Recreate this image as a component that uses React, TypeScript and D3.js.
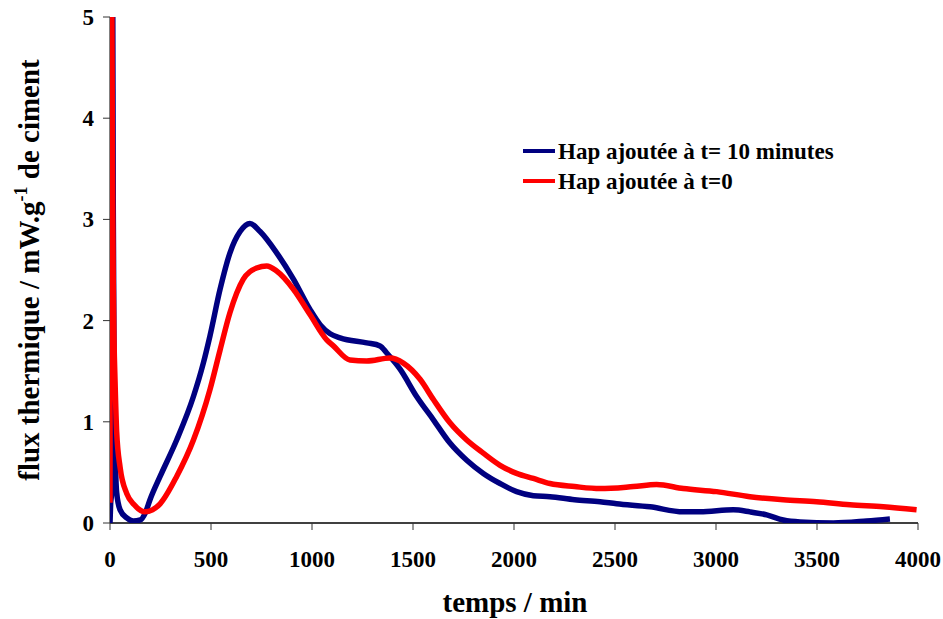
import React from "react";
import * as d3 from "d3";

const xTicks = [0, 500, 1000, 1500, 2000, 2500, 3000, 3500, 4000];
const yTicks = [0, 1, 2, 3, 4, 5];

const seriesNames = ["Hap ajoutée à t= 10 minutes", "Hap ajoutée à t=0"];

// Hap added at t = 10 minutes (blue)
const blueT = [0, 3, 8, 11, 13, 16, 20, 25, 33, 50, 83, 115, 150, 175, 198, 248, 330, 413, 462, 495, 545, 594, 644, 693, 743, 825, 908, 990, 1040, 1090, 1139, 1271, 1337, 1370, 1436, 1518, 1601, 1683, 1766, 1848, 1931, 2013, 2096, 2178, 2300, 2426, 2508, 2673, 2838, 2921, 3086, 3168, 3251, 3333, 3416, 3581, 3746, 3861];
const blueV = [0, 0.18, 0.3, 4.0, 5.6, 3.2, 1.6, 0.8, 0.3, 0.13, 0.05, 0.02, 0.03, 0.1, 0.23, 0.46, 0.82, 1.25, 1.58, 1.85, 2.31, 2.67, 2.88, 2.96, 2.88, 2.67, 2.41, 2.11, 1.96, 1.87, 1.83, 1.78, 1.75, 1.68, 1.52, 1.25, 1.02, 0.79, 0.62, 0.49, 0.39, 0.31, 0.27, 0.26, 0.23, 0.21, 0.19, 0.16, 0.11, 0.11, 0.13, 0.11, 0.08, 0.03, 0.01, 0.0, 0.02, 0.04];

// Hap added at t = 0 (red)
const redT = [0, 2, 8, 12, 16, 20, 25, 33, 50, 83, 120, 173, 210, 248, 330, 413, 495, 545, 594, 660, 726, 776, 825, 908, 990, 1073, 1106, 1188, 1271, 1386, 1452, 1535, 1601, 1683, 1766, 1848, 1931, 2013, 2096, 2178, 2300, 2426, 2591, 2706, 2838, 3003, 3168, 3333, 3498, 3663, 3828, 3993];
const redV = [0.2, 5.6, 5.6, 3.6, 2.4, 1.8, 1.4, 0.9, 0.55, 0.29, 0.18, 0.11, 0.13, 0.19, 0.46, 0.82, 1.32, 1.71, 2.08, 2.41, 2.52, 2.54, 2.49, 2.31, 2.06, 1.81, 1.75, 1.61, 1.6, 1.63, 1.58, 1.42, 1.22, 0.99, 0.82, 0.69, 0.57, 0.49, 0.44, 0.39, 0.36, 0.34, 0.36, 0.38, 0.34, 0.31, 0.26, 0.23, 0.21, 0.18, 0.16, 0.13];

const W = 943;
const H = 619;
const left = 110;
const right = 918;
const top = 17;
const bottom = 523;

export default function App() {
  const x = d3.scaleLinear().domain([0, 4000]).range([left, right]);
  const y = d3.scaleLinear().domain([0, 5]).range([bottom, top]);
  const line = d3
    .line<[number, number]>()
    .x((d) => x(d[0]))
    .y((d) => y(d[1]))
    .curve(d3.curveMonotoneX);
  const blue = blueT.map((t, i) => [t, blueV[i]] as [number, number]);
  const red = redT.map((t, i) => [t, redV[i]] as [number, number]);
  const font = '"Liberation Serif", "DejaVu Serif", serif';

  return (
    <svg
      width={W}
      height={H}
      style={{ position: "absolute", left: 0, top: 0, background: "#fff", fontFamily: font, fontWeight: 700 }}
    >
      <defs>
        <clipPath id="plot">
          <rect x={left} y={top} width={right - left + 4} height={bottom - top} />
        </clipPath>
      </defs>
      {/* axes */}
      <line x1={left} x2={left} y1={top} y2={bottom} stroke="#000" strokeWidth={1} />
      <line x1={left} x2={right} y1={bottom} y2={bottom} stroke="#000" strokeWidth={1.3} />
      {yTicks.map((v) => (
        <g key={"y" + v}>
          <line x1={left - 7} x2={left} y1={y(v)} y2={y(v)} stroke="#333" strokeWidth={1} />
          <text x={94} y={y(v) + 8} textAnchor="end" fontSize={23}>
            {v}
          </text>
        </g>
      ))}
      {xTicks.map((v) => (
        <g key={"x" + v}>
          <line x1={x(v)} x2={x(v)} y1={bottom} y2={bottom + 7} stroke="#333" strokeWidth={1} />
          <text x={x(v)} y={567} textAnchor="middle" fontSize={23}>
            {v}
          </text>
        </g>
      ))}
      {/* series */}
      <g clipPath="url(#plot)">
        <path d={line(blue) || ""} fill="none" stroke="#000080" strokeWidth={5.5} strokeLinejoin="round" />
        <path d={line(red) || ""} fill="none" stroke="#FF0000" strokeWidth={5.5} strokeLinejoin="round" />
      </g>
      {/* axis titles */}
      <text x={515} y={612} textAnchor="middle" fontSize={29}>
        temps / min
      </text>
      <text transform="translate(39,270) rotate(-90)" textAnchor="middle" fontSize={29}>
        flux thermique / mW.g
        <tspan dy={-12} fontSize={18}>-1</tspan>
        <tspan dy={12}> de ciment</tspan>
      </text>
      {/* legend */}
      <line x1={523} x2={555} y1={151} y2={151} stroke="#000080" strokeWidth={4} />
      <text x={558} y={159} fontSize={23}>
        {seriesNames[0]}
      </text>
      <line x1={523} x2={555} y1={181} y2={181} stroke="#FF0000" strokeWidth={4} />
      <text x={558} y={189} fontSize={23}>
        {seriesNames[1]}
      </text>
    </svg>
  );
}
